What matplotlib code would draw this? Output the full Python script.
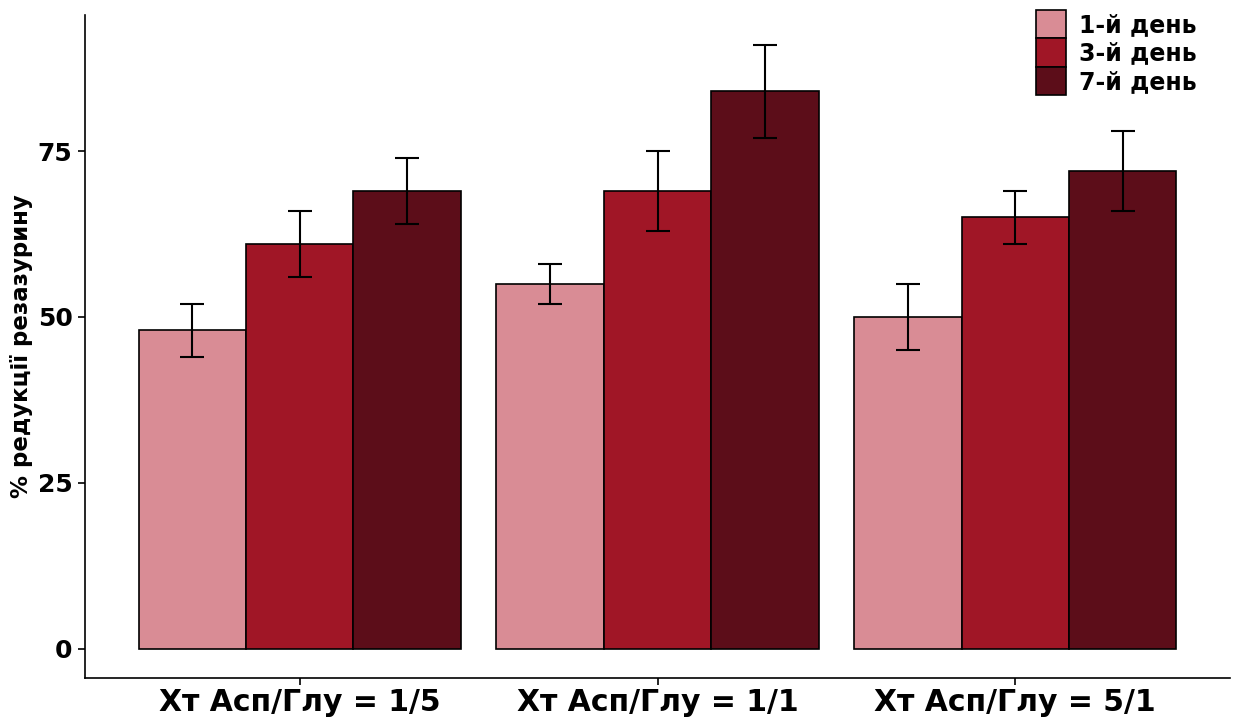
import numpy as np
import matplotlib
matplotlib.use("Agg")
import matplotlib.pyplot as plt

plt.rcParams['font.family'] = ['DejaVu Sans']
plt.rcParams['font.weight'] = 'bold'

groups = ["Хт Асп/Глу = 1/5", "Хт Асп/Глу = 1/1", "Хт Асп/Глу = 5/1"]
days = ["1-й день", "3-й день", "7-й день"]
means = {
    "1-й день": [48, 55, 50],
    "3-й день": [61, 69, 65],
    "7-й день": [69, 84, 72],
}
errors = {
    "1-й день": [4, 3, 5],
    "3-й день": [5, 6, 4],
    "7-й день": [5, 7, 6],
}
colors = ["#D98C95", "#A01626", "#5C0D19"]

fig = plt.figure(figsize=(12.35, 7.2), dpi=100)
ax = fig.add_axes([85 / 1235, 42 / 720, 1145 / 1235, 663 / 720])

x = np.arange(1, len(groups) + 1)
width = 0.3
for i, day in enumerate(days):
    pos = x + (i - 1) * width
    ax.bar(pos, means[day], width=width, color=colors[i], edgecolor="black",
           linewidth=1.2, label=day, zorder=2)
    ax.errorbar(pos, means[day], yerr=errors[day], fmt="none", ecolor="black",
                elinewidth=1.5, capsize=8.5, capthick=1.5, zorder=3)

ax.set_xlim(0.4, 3.6)
ax.set_ylim(-4.4, 95.5)
ax.set_yticks([0, 25, 50, 75])
ax.set_xticks(x)
ax.set_xticklabels(groups, fontsize=21.5, fontweight="bold")
ax.tick_params(axis="y", labelsize=18, length=5, width=1.2, pad=4)
ax.tick_params(axis="x", length=5, width=1.2, pad=2)
for lab in ax.get_yticklabels():
    lab.set_fontweight("bold")
ax.set_ylabel("% редукції резазурину", fontsize=16.5, fontweight="bold", labelpad=3)

for side in ("top", "right"):
    ax.spines[side].set_visible(False)
for side in ("left", "bottom"):
    ax.spines[side].set_linewidth(1.2)

leg = ax.legend(loc="upper left", bbox_to_anchor=(1036 / 1235, 1 - 10 / 720),
                bbox_transform=fig.transFigure, frameon=False,
                prop={"size": 17, "weight": "bold"}, handlelength=1.27,
                handleheight=1.47, labelspacing=0.0, handletextpad=0.55,
                borderpad=0, borderaxespad=0)

fig.savefig("out.png", dpi=100)
